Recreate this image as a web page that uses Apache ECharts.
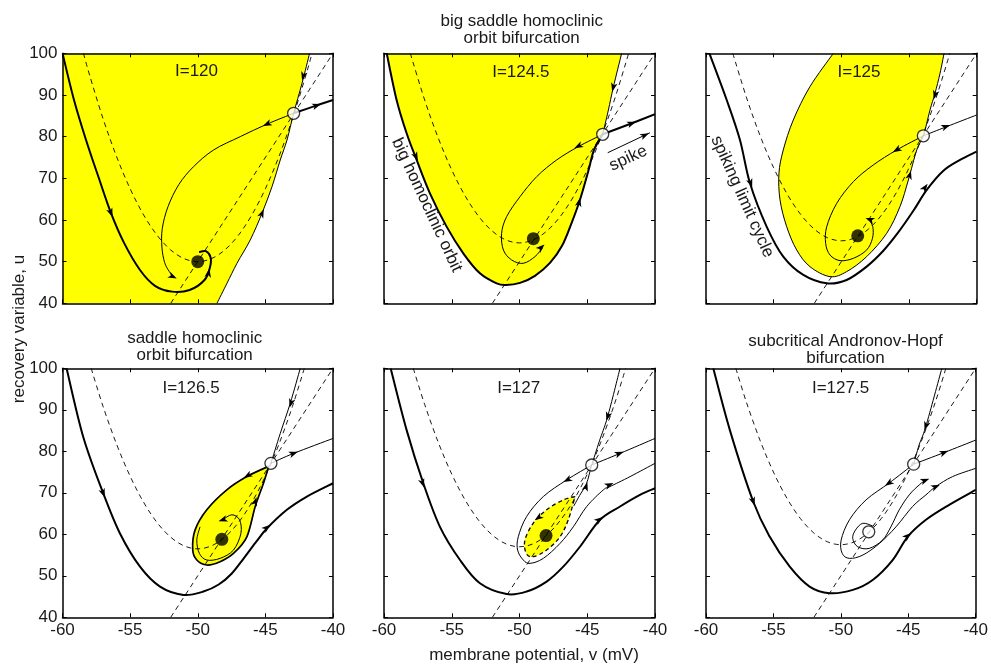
<!DOCTYPE html>
<html><head><meta charset="utf-8">
<script src="https://cdn.jsdelivr.net/npm/echarts@6/dist/echarts.min.js"></script>
<style>html,body{margin:0;padding:0;background:#fff}#c{width:991px;height:668px}</style>
</head><body><div id="c"></div><script>
// ---------- tick labels / text ----------
const xTicks=[-60,-55,-50,-45,-40];
const yTicks=[40,50,60,70,80,90,100];
const currents=['I=120','I=124.5','I=125','I=126.5','I=127','I=127.5'];
const titles=['','big saddle homoclinic\norbit bifurcation','','saddle homoclinic\norbit bifurcation','','subcritical Andronov-Hopf\nbifurcation'];
const xTitle='membrane potential, v (mV)';
const yTitle='recovery variable, u';

// ---------- u-nullcline (same in all panels) ----------
const uNull=[[-52,40],[-40,100]];

// ---------- panel 1 (I=120) ----------
const p1VNull=[[-58.45,100],[-58,94.8],[-57,84.3],[-56,75.2],[-55,67.5],[-54,61.2],[-53,56.3],[-52,52.8],[-51,50.7],[-50,50],[-49,50.7],[-48,52.8],[-47,56.3],[-46,61.2],[-45,67.5],[-44,75.2],[-43,84.3],[-42,94.8],[-41.55,100]];
const p1Thick=[[-60,100],[-59.15,88.8],[-58.26,79.2],[-57.34,70.3],[-56.42,61.7],[-55.45,54.5],[-54.27,48.0],[-53.16,44.2],[-51.9,42.8],[-50.6,43.2],[-49.5,45.6],[-49.1,48.6],[-49.05,51.0],[-49.4,52.5],[-49.9,52.3]];
const p1SpikeOut=[[-42.91,85.6],[-41.2,87.5],[-40,88.8]];
const p1Thin=[[-42.91,85.6],[-44.88,83.0],[-46.86,80.0],[-48.83,76.8],[-50.31,72.8],[-51.4,68.5],[-52.2,63.2],[-52.62,58.0],[-52.65,53.5],[-52.45,49.8],[-52.1,47.6],[-51.75,46.2]];
const p1Stable=[[-41.73,100],[-42.29,92.8],[-42.91,85.6],[-43.40,79.2],[-43.90,74.4],[-44.51,68],[-45.25,61.6],[-46.12,55.2],[-47.1,49.6],[-47.84,44.8],[-48.58,40]];
const p1YellowCorners=[[-60,40],[-60,100]];
const p1Arrows=[[-56.42,61.7,-56.2,59.9],[-49.2,47.3,-49.08,49.5],[-41.2,87.5,-40.5,88.3],[-44.88,83.0,-45.5,82.1],[-51.85,46.4,-51.6,46.0],[-42.2,94.5,-42.4,92.0],[-45.25,61.6,-45.0,63.5]];
const p1Saddle=[[-42.91,85.6]];
const p1Node=[[-50.0,50.0]];

// ---------- panel 2 (I=124.5) ----------
const p2VNull=[[-58.06,100],[-57,88.8],[-56,79.7],[-55,72.0],[-54,65.7],[-53,60.8],[-52,57.3],[-51,55.2],[-50,54.5],[-49,55.2],[-48,57.3],[-47,60.8],[-46,65.7],[-45,72.0],[-44,79.7],[-43,88.8],[-41.94,100]];
const p2Thick=[[-59.8,100],[-59.07,88.8],[-58.33,80.8],[-57.59,74.4],[-56.61,66.4],[-55.38,58.4],[-54.15,52],[-52.92,47.2],[-51.69,44.8],[-51.0,44.4],[-49.96,44.9],[-48.86,46.6],[-47.75,49.7],[-46.86,53.8],[-46.13,59.5],[-45.54,64.8],[-44.94,71.5],[-44.5,76.8],[-43.86,80.56]];
const p2SpikeOut=[[-43.86,80.56],[-41.8,83.1],[-40,85.4]];
const p2StableUp=[[-43.86,80.56],[-43.44,86.4],[-43.08,91.8],[-42.46,100]];
const p2Thin=[[-43.86,80.56],[-45.66,77.6],[-47.26,74.4],[-48.73,70.4],[-49.96,65.6],[-50.95,60.8],[-51.32,56.8],[-51.19,52.8],[-50.58,50.4],[-49.72,49.6],[-48.86,51.2],[-48.3,53.3]];
const p2Yellow=[[-59.8,100],[-59.07,88.8],[-58.33,80.8],[-57.59,74.4],[-56.61,66.4],[-55.38,58.4],[-54.15,52],[-52.92,47.2],[-51.69,44.8],[-51.0,44.4],[-49.96,44.9],[-48.86,46.6],[-47.75,49.7],[-46.86,53.8],[-46.13,59.5],[-45.54,64.8],[-44.94,71.5],[-44.5,76.8],[-43.86,80.56],[-43.44,86.4],[-43.08,91.8],[-42.46,100]];
const p2SpikeNote=[[-43.49,76.14],[-40.37,80.94]];
const p2Arrows=[[-57.64,75.2,-57.4,73.5],[-45.6,64.3,-45.45,66.5],[-45.66,77.7,-46.2,76.8],[-48.4,53.4,-48.2,54.0],[-43.08,91.8,-43.25,89.5],[-41.72,83.2,-41.0,84.1],[-40.75,80.35,-40.37,80.94]];
const p2Saddle=[[-43.86,80.56]];
const p2Node=[[-48.98,55.5]];

// ---------- panel 3 (I=125) ----------
const p3VNull=[[-58.02,100],[-57,89.3],[-56,80.2],[-55,72.5],[-54,66.2],[-53,61.3],[-52,57.8],[-51,55.7],[-50,55],[-49,55.7],[-48,57.8],[-47,61.3],[-46,66.2],[-45,72.5],[-44,80.2],[-43,89.3],[-41.98,100]];
const p3Boundary=[[-50.59,100],[-52.32,92],[-53.55,84],[-54.29,76.8],[-54.61,71.2],[-54.53,64.8],[-54.04,58.4],[-53.30,52.8],[-52.32,48.8],[-50.84,46.4],[-49.61,47.6],[-48.13,51.2],[-46.65,56.8],[-45.67,63.2],[-45.05,69.6],[-44.43,76.8],[-43.94,80.2],[-43.45,86.4],[-43.08,90.4],[-42.71,95.2],[-42.41,100]];
const p3Thick=[[-59.75,100],[-58.47,88.8],[-57.49,79.2],[-56.75,68.8],[-55.52,58.4],[-54.29,51.2],[-52.81,46.8],[-51.08,44.8],[-49.61,45.6],[-48.13,48.8],[-46.9,52.6],[-45.8,57.0],[-44.68,62.2],[-43.69,67.2],[-42.46,71.8],[-41.23,74.4],[-40,76.4]];
const p3SpikeOut=[[-43.94,80.2],[-42.22,82.4],[-40,85.2]];
const p3Thin=[[-43.94,80.2],[-45.91,76.8],[-47.64,73.2],[-49.11,69.2],[-50.34,64],[-51.08,58.4],[-51.16,54.4],[-50.84,51.6],[-50.10,50.24],[-49.11,50.8],[-48.13,52.8],[-47.70,55.6],[-47.68,58.4],[-48.0,60.3]];
const p3Arrows=[[-56.7,68.8,-56.45,66.5],[-43.82,67.8,-43.4,69.7],[-44.95,70.8,-44.8,72.5],[-43.08,90,-43.25,88],[-42.27,82.4,-41.5,83.3],[-45.91,76.8,-46.5,75.7],[-47.9,60.1,-48.3,60.6]];
const p3Saddle=[[-43.94,80.2]];
const p3Node=[[-48.79,56.2]];

// ---------- panel 4 (I=126.5) ----------
const p4VNull=[[-57.88,100],[-57,90.8],[-56,81.7],[-55,74.0],[-54,67.7],[-53,62.8],[-52,59.3],[-51,57.2],[-50,56.5],[-49,57.2],[-48,59.3],[-47,62.8],[-46,67.7],[-45,74.0],[-44,81.7],[-43,90.8],[-42.12,100]];
const p4Thick=[[-59.70,100],[-58.47,83.5],[-56.99,69.9],[-55.75,60.2],[-54.27,52.2],[-52.79,47.4],[-51.06,45.4],[-49.58,46.2],[-48.45,47.9],[-47.5,50.5],[-46.6,54.2],[-45.63,58.4],[-44.89,61.4],[-43.41,65.9],[-41.93,69.1],[-40,72.3]];
const p4SpikeOut=[[-44.59,77.1],[-42.91,79.5],[-40,83.1]];
const p4StableUp=[[-44.59,77.1],[-43.9,84.3],[-43.16,91.6],[-42.42,100]];
const p4Loop=[[-44.75,76.4],[-46.37,73.9],[-47.85,70.7],[-49.33,65.9],[-50.2,61.0],[-50.37,56.2],[-50.07,53.8],[-49.33,52.6],[-48.35,53.4],[-47.36,55.4],[-46.37,59.4],[-45.75,66.7],[-45.14,72.3],[-44.75,76.4]];
const p4Inner=[[-49.83,61.8],[-50.07,58.6],[-49.88,55.4],[-49.33,53.8],[-48.35,54.2],[-47.36,56.2],[-46.81,60.2],[-46.91,63.5],[-47.48,64.7],[-48.15,63.5]];
const p4Arrows=[[-56.99,69.9,-56.7,67.5],[-44.89,61.6,-44.3,63.2],[-42.91,79.5,-42.0,80.6],[-43.11,91.6,-43.3,89.5],[-46.32,74.1,-46.9,73.0],[-45.75,67.9,-45.55,70],[-48.15,63.5,-48.5,63.1]];
const p4Saddle=[[-44.59,77.1]];
const p4Node=[[-48.22,58.8]];

// ---------- panel 5 (I=127) ----------
const p5VNull=[[-57.84,100],[-57,91.3],[-56,82.2],[-55,74.5],[-54,68.2],[-53,63.3],[-52,59.8],[-51,57.7],[-50,57],[-49,57.7],[-48,59.8],[-47,63.3],[-46,68.2],[-45,74.5],[-44,82.2],[-43,91.3],[-42.16,100]];
const p5Thick=[[-59.51,100],[-58.33,85.1],[-57.10,72.3],[-55.87,61.8],[-54.39,53.8],[-52.92,48.2],[-50.95,45.6],[-49.47,46.2],[-48.0,48.6],[-46.77,52.2],[-45.54,57.0],[-44.06,63.5],[-42.58,66.7],[-41.11,69.5],[-40,71.1]];
const p5SpikeOut=[[-44.67,76.7],[-42.58,79.5],[-40,83.1]];
const p5StableUp=[[-44.67,76.7],[-44.1,82.5],[-43.49,88.4],[-42.58,100]];
const p5StableLow=[[-46.0,66.8],[-45.5,69.7],[-45.09,71.9],[-44.85,74.5],[-44.67,76.7]];
const p5Outer=[[-44.67,76.7],[-46.52,73.1],[-48.24,69.1],[-49.47,64.3],[-50.09,59.4],[-50.14,56.2],[-49.72,53.8],[-49.22,53.0],[-48.24,54.2],[-47.01,57.8],[-46.03,61.8],[-45.04,66.7],[-43.81,70.7],[-43.32,71.5],[-41.84,73.9],[-40,77.1]];
const p5Yellow=[[-45.90,69.1],[-46.76,68.3],[-48.0,65.9],[-48.98,62.7],[-49.6,58.6],[-49.5,55.4],[-48.98,54.6],[-48.0,56.2],[-47.01,59.4],[-46.40,63.5],[-45.90,69.1]];
const p5Arrows=[[-57.15,72.3,-56.9,70],[-44.11,63.5,-43.4,65.2],[-42.63,79.5,-41.8,80.6],[-43.49,88.4,-43.7,86.2],[-45.09,71.5,-44.9,73.5],[-46.47,73.1,-47.1,72],[-43.37,71.9,-42.6,73.0],[-48.61,64.0,-49.0,63.1]];
const p5Saddle=[[-44.67,76.7]];
const p5Node=[[-48.04,59.7]];

// ---------- panel 6 (I=127.5) ----------
const p6VNull=[[-57.79,100],[-57,91.8],[-56,82.7],[-55,75.0],[-54,68.7],[-53,63.8],[-52,60.3],[-51,58.2],[-50,57.5],[-49,58.2],[-48,60.3],[-47,63.8],[-46,68.7],[-45,75.0],[-44,82.7],[-43,91.8],[-42.21,100]];
const p6Thick=[[-59.46,100],[-58.23,85.1],[-56.50,67.9],[-55.27,59.4],[-53.79,52.2],[-52.32,47.4],[-50.84,45.8],[-49.11,46.6],[-47.64,49.0],[-46.16,53.8],[-45.05,59.4],[-43.69,63.5],[-41.97,67.1],[-40,70.7]];
const p6SpikeOut=[[-44.6,76.9],[-42.34,79.7],[-40,82.7]];
const p6StableUp=[[-44.6,76.9],[-44.2,81.5],[-43.69,86.1],[-42.51,100]];
const p6Outer=[[-44.6,76.9],[-46.40,72.4],[-48.13,68.3],[-49.36,63.5],[-49.98,58.6],[-49.90,55.4],[-49.36,54.2],[-48.37,55.0],[-47.14,57.8],[-45.91,61.8],[-44.68,66.7],[-43.69,69.5],[-42.96,71.5],[-41.72,73.9],[-40,75.9]];
const p6Spiral=[[-47.64,62.0],[-48.38,62.65],[-48.92,61.0],[-49.12,59.0],[-48.75,57.0],[-47.90,56.6],[-46.91,58.6],[-46.29,61.8],[-45.67,65.9],[-44.93,69.5],[-44.19,71.9],[-43.7,73.1]];
const p6Arrows=[[-56.5,67.9,-56.25,65.5],[-45.05,59.6,-44.4,61.5],[-42.34,79.7,-41.5,80.8],[-43.69,86.1,-43.9,84],[-46.45,72.3,-47.0,71.1],[-42.96,71.5,-42.2,72.6],[-43.75,73.0,-43.2,73.7]];
const p6Saddle=[[-44.6,76.9]];
const p6Focus=[[-47.93,60.6]];

// ---------- assemble ----------
const panels=[
 {yellow:p1Stable,corners:p1YellowCorners,dashed:[p1VNull],thick:[p1Thick,p1SpikeOut],thin:[p1Thin,p1Stable],arrows:p1Arrows,saddles:p1Saddle,nodes:p1Node},
 {yellow:p2Yellow,dashed:[p2VNull],thick:[p2Thick,p2SpikeOut],thin:[p2Thin,p2StableUp],straight:[p2SpikeNote],arrows:p2Arrows,saddles:p2Saddle,nodes:p2Node},
 {yellow:p3Boundary,dashed:[p3VNull],thick:[p3Thick],thin:[p3Boundary,p3SpikeOut,p3Thin],arrows:p3Arrows,saddles:p3Saddle,nodes:p3Node},
 {yellow:p4Loop,dashed:[p4VNull],thick:[p4Thick],medium:[p4Loop],thin:[p4SpikeOut,p4StableUp,p4Inner],arrows:p4Arrows,saddles:p4Saddle,nodes:p4Node},
 {yellow:p5Yellow,dashed:[p5VNull],cycle:[p5Yellow],thick:[p5Thick],thin:[p5SpikeOut,p5StableUp,p5StableLow,p5Outer],arrows:p5Arrows,saddles:p5Saddle,nodes:p5Node},
 {dashed:[p6VNull],thick:[p6Thick],thin:[p6SpikeOut,p6StableUp,p6Outer,p6Spiral],arrows:p6Arrows,saddles:p6Saddle.concat(p6Focus),nodes:[]}
];

const FONT='"Liberation Sans", Arial, Helvetica, sans-serif';
const TXT='#1a1a1a';
const gridPos=[[62.5,53.3,270.5,250],[384,53.3,271,250],[706,53.3,270.7,250],[62.5,368.3,270.5,249],[384,368.3,271,249],[706,368.3,270.7,249]];

const grid=[],xAxis=[],yAxis=[],series=[];
const axLine={onZero:false,lineStyle:{color:'#000',width:1.5}};
const axTick={inside:true,length:4,lineStyle:{color:'#000',width:1}};
const lab={color:TXT,fontSize:17,fontFamily:FONT};
gridPos.forEach((g,i)=>{
  grid.push({left:g[0],top:g[1],width:g[2],height:g[3],containLabel:false});
  const bottomRow=i>=3, leftCol=i%3===0;
  const xb={gridIndex:i,type:'value',min:xTicks[0],max:xTicks[xTicks.length-1],interval:xTicks[1]-xTicks[0],axisLine:axLine,axisTick:axTick,splitLine:{show:false},z:6};
  xAxis.push(Object.assign({},xb,{position:'bottom',axisLabel:Object.assign({show:bottomRow,margin:5,showMinLabel:true,showMaxLabel:true},lab)}));
  xAxis.push(Object.assign({},xb,{position:'top',axisLabel:{show:false}}));
  const yb={gridIndex:i,type:'value',min:yTicks[0],max:yTicks[yTicks.length-1],interval:yTicks[1]-yTicks[0],axisLine:axLine,axisTick:axTick,splitLine:{show:false},z:6};
  yAxis.push(Object.assign({},yb,{position:'left',axisLabel:Object.assign({show:leftCol,margin:5,showMinLabel:true,showMaxLabel:true},lab)}));
  yAxis.push(Object.assign({},yb,{position:'right',axisLabel:{show:false}}));
});

// Catmull-Rom -> cubic bezier path through pixel points (rendering only)
function crPath(pts,straight){
  let d='M'+pts[0][0].toFixed(2)+' '+pts[0][1].toFixed(2);
  if(straight){ for(let k=1;k<pts.length;k++) d+=' L'+pts[k][0].toFixed(2)+' '+pts[k][1].toFixed(2); return d; }
  for(let k=0;k<pts.length-1;k++){
    const p0=pts[Math.max(k-1,0)],p1=pts[k],p2=pts[k+1],p3=pts[Math.min(k+2,pts.length-1)];
    const c1=[p1[0]+(p2[0]-p0[0])/6,p1[1]+(p2[1]-p0[1])/6];
    const c2=[p2[0]-(p3[0]-p1[0])/6,p2[1]-(p3[1]-p1[1])/6];
    d+=' C'+c1[0].toFixed(2)+' '+c1[1].toFixed(2)+' '+c2[0].toFixed(2)+' '+c2[1].toFixed(2)+' '+p2[0].toFixed(2)+' '+p2[1].toFixed(2);
  }
  return d;
}
function curveS(i,data,width,dash,z,straight){
  return {type:'custom',xAxisIndex:2*i,yAxisIndex:2*i,data:[data[0]],encode:{x:0,y:1},z:z,silent:true,clip:true,
    renderItem:function(params,api){
      const pts=data.map(p=>api.coord(p));
      return {type:'path',shape:{pathData:crPath(pts,straight)},
        style:{fill:null,stroke:'#000',lineWidth:width,lineDash:dash,lineCap:'butt',lineJoin:'round'}};
    }};
}
function fillS(i,curve,corners){
  return {type:'custom',xAxisIndex:2*i,yAxisIndex:2*i,data:[curve[0]],encode:{x:0,y:1},z:1,silent:true,clip:true,
    renderItem:function(params,api){
      let d=crPath(curve.map(p=>api.coord(p)),false);
      (corners||[]).forEach(c=>{const q=api.coord(c); d+=' L'+q[0].toFixed(2)+' '+q[1].toFixed(2);});
      d+=' Z';
      return {type:'path',shape:{pathData:d},style:{fill:'#ffff00',stroke:null}};
    }};
}

panels.forEach((P,i)=>{
  if(P.yellow) series.push(fillS(i,P.yellow,P.corners));
  series.push(curveS(i,uNull,0.9,[5,4],2,true));
  (P.dashed||[]).forEach(d=>series.push(curveS(i,d,0.9,[5,4],2,false)));
  (P.cycle||[]).forEach(d=>series.push(curveS(i,d,1.3,[4,3],3,false)));
  (P.thin||[]).forEach(d=>series.push(curveS(i,d,1,null,3,false)));
  (P.medium||[]).forEach(d=>series.push(curveS(i,d,1.7,null,3,false)));
  (P.thick||[]).forEach(d=>series.push(curveS(i,d,2,null,3,false)));
  (P.straight||[]).forEach(d=>series.push(curveS(i,d,1,null,3,true)));
  series.push({type:'custom',xAxisIndex:2*i,yAxisIndex:2*i,data:P.arrows,dimensions:['x','y','x2','y2'],encode:{x:0,y:1},z:4,silent:true,clip:false,
    renderItem:function(params,api){
      const p=api.coord([api.value(0),api.value(1)]);
      const q=api.coord([api.value(2),api.value(3)]);
      const a=Math.atan2(q[1]-p[1],q[0]-p[0]);
      const c=Math.cos(a),s=Math.sin(a);
      const pt=(dx,dy)=>[p[0]+dx*c-dy*s,p[1]+dx*s+dy*c];
      return {type:'polygon',shape:{points:[pt(4.5,0),pt(-4.5,3.3),pt(-2.2,0),pt(-4.5,-3.3)]},style:{fill:'#000'}};
    }});
  if(P.nodes.length) series.push({type:'scatter',xAxisIndex:2*i,yAxisIndex:2*i,data:P.nodes,symbol:'circle',symbolSize:13,itemStyle:{color:'#000'},z:5,silent:true,animation:false});
  series.push({type:'scatter',xAxisIndex:2*i,yAxisIndex:2*i,data:P.saddles,symbol:'circle',symbolSize:12,itemStyle:{color:'#fff',borderColor:'#000',borderWidth:1.3},z:5,silent:true,animation:false});
});

// text placement (layout)
const curPos=[[196.5,71.7],[520.8,72],[859,72],[191,388.3],[518.7,388.3],[840.5,388.3]];
const titlePos=[null,[521.7,29.5],null,[194.7,346.8],null,[845.5,350.2]];
const graphic=[];
const txt=(x,y,text,rot)=>({type:'text',x:x,y:y,rotation:rot||0,silent:true,z:10,
  style:{text:text,fontSize:17,fontFamily:FONT,fill:TXT,align:'center',verticalAlign:'middle',textAlign:'center',textVerticalAlign:'middle',lineHeight:17}});
currents.forEach((c,i)=>graphic.push(txt(curPos[i][0],curPos[i][1],c)));
titles.forEach((t,i)=>{ if(t) graphic.push(txt(titlePos[i][0],titlePos[i][1],t)); });
graphic.push(txt(534,655,xTitle));
graphic.push(txt(19,329,yTitle,Math.PI/2));
graphic.push(txt(426.7,205,'big homoclinic orbit',-65*Math.PI/180));
graphic.push(txt(742.3,196.7,'spiking limit cycle',-65.8*Math.PI/180));
graphic.push(txt(628.3,158.3,'spike',25*Math.PI/180));

const chart=echarts.init(document.getElementById('c'),null,{renderer:'canvas'});
chart.setOption({animation:false,backgroundColor:'#fff',grid:grid,xAxis:xAxis,yAxis:yAxis,series:series,graphic:graphic});
</script></body></html>
